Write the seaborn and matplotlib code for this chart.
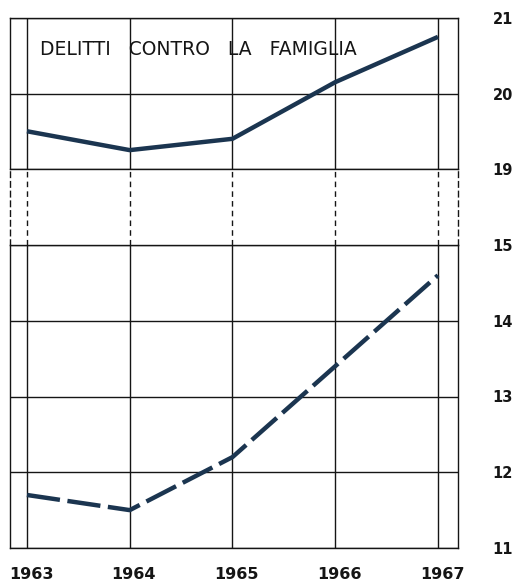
import matplotlib
matplotlib.use("Agg")
import matplotlib.pyplot as plt
import matplotlib.transforms as mtrans
import seaborn as sns

# Dati (migliaia di delitti)
anni = [1963, 1964, 1965, 1966, 1967]
serie_alta = [19.5, 19.25, 19.4, 20.15, 20.75]
serie_bassa = [11.7, 11.5, 12.2, 13.4, 14.6]
tick_alti = [19, 20, 21]
tick_bassi = [11, 12, 13, 14, 15]
titolo = "DELITTI   CONTRO   LA   FAMIGLIA"

sns.set_style("white")
plt.rcParams["font.family"] = ["DejaVu Sans"]

colore = "#1b3550"
inchiostro = "#151515"

fig = plt.figure(figsize=(5.19, 5.83), dpi=100)
sx, larg = 10 / 519, 448 / 519
ax_top = fig.add_axes([sx, 1 - 169 / 583, larg, 151 / 583])
ax_mid = fig.add_axes([sx, 1 - 245 / 583, larg, 76 / 583])
ax_bot = fig.add_axes([sx, 1 - 548 / 583, larg, 303 / 583])

xmin, xmax = 1962.835, 1967.195
for ax in (ax_top, ax_mid, ax_bot):
    ax.set_xlim(xmin, xmax)
    ax.set_xticks(anni)
    ax.tick_params(length=0)
ax_mid.patch.set_visible(False)

# pannello superiore
sns.lineplot(x=anni, y=serie_alta, ax=ax_top, color=colore, lw=3.2,
             solid_capstyle="butt")
ax_top.set_ylim(19, 21)
ax_top.set_yticks(tick_alti)
ax_top.grid(True, color=inchiostro, lw=1.0)
ax_top.text(0.067, 0.79, titolo, transform=ax_top.transAxes, fontsize=13.5,
            color=inchiostro, va="center", ha="left")

# pannello inferiore
sns.lineplot(x=anni, y=serie_bassa, ax=ax_bot, color=colore, lw=3.2)
ax_bot.lines[0].set_dashes([7.5, 1.7])
ax_bot.set_ylim(11, 15)
ax_bot.set_yticks(tick_bassi)
ax_bot.grid(True, color=inchiostro, lw=1.0)

# interruzione della scala
ax_mid.set_ylim(0, 1)
ax_mid.set_yticks([])
ax_mid.xaxis.grid(True, color=inchiostro, lw=1.0, linestyle=(0, (4, 3)))
for lato in ("top", "bottom"):
    ax_mid.spines[lato].set_visible(False)
for lato in ("left", "right"):
    ax_mid.spines[lato].set_linestyle((0, (4, 3)))

for ax in (ax_top, ax_mid, ax_bot):
    for lato in ax.spines:
        ax.spines[lato].set_color(inchiostro)
        ax.spines[lato].set_linewidth(1.0)

for ax in (ax_top, ax_bot):
    ax.yaxis.tick_right()
    ax.tick_params(axis="y", pad=25, labelsize=10.5, labelcolor=inchiostro)
    for t in ax.get_yticklabels():
        t.set_fontweight("bold")
    ax.set_ylabel("")

ax_top.set_xticklabels([])
ax_mid.set_xticklabels([])
ax_bot.set_xticklabels([str(a) for a in anni], fontweight="bold")
ax_bot.tick_params(axis="x", pad=14, labelsize=11.5, labelcolor=inchiostro)
ax_bot.set_xlabel("")
spost = mtrans.ScaledTranslation(4 / 100, 0, fig.dpi_scale_trans)
for t in ax_bot.get_xticklabels():
    t.set_transform(t.get_transform() + spost)

fig.savefig("out.png", dpi=100, facecolor="white")
